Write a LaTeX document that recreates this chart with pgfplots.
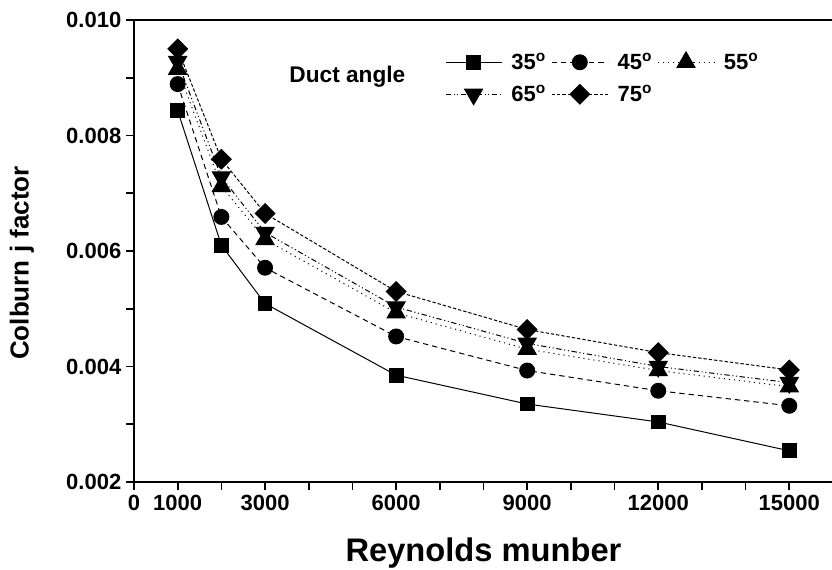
\documentclass[border=0pt]{standalone}
\usepackage{pgfplots}
\pgfplotsset{compat=1.18}
\usepackage{fontspec}
\setmainfont{Liberation Sans}

\begin{document}
\begin{tikzpicture}
\useasboundingbox (0,0) rectangle (624pt,427.5pt);
\begin{axis}[
  at={(100.5pt,66pt)}, anchor=south west,
  scale only axis, width=524.25pt, height=346.5pt,
  xmin=0, xmax=16000, ymin=0.002, ymax=0.010,
  axis x line*=box, axis y line*=left,
  axis line style={-, line width=1.3pt},
  tick align=outside,
  xtick pos=bottom, ytick pos=left,
  major tick length=6pt, minor tick length=6pt,
  every tick/.style={black, line width=1.3pt},
  minor tick style={black, line width=1.3pt},
  xtick={0,1000,3000,6000,9000,12000,15000},
  xticklabels={0,1000,3000,6000,9000,12000,15000},
  minor xtick={2000,4000,5000,7000,8000,10000,11000,13000,14000},
  ytick={0.002,0.004,0.006,0.008,0.010},
  yticklabels={0.002,0.004,0.006,0.008,0.010},
  minor ytick={0.003,0.005,0.007,0.009},
  scaled y ticks=false, scaled x ticks=false,
  ticklabel style={font=\fontsize{16.5}{19}\selectfont\bfseries},
  xlabel={Reynolds munber},
  xlabel style={font=\fontsize{24.5}{28}\selectfont\bfseries, at={(axis description cs:0.5,0)}, anchor=base, yshift=-60pt},
  ylabel={Colburn j factor},
  ylabel style={font=\fontsize{19.5}{22}\selectfont\bfseries, at={(axis description cs:-0.1602,0.474)}, anchor=center},
  legend columns=3,
  legend style={at={(axis cs:7115,0.00948)}, anchor=north west, draw=none, fill=none,
    font=\fontsize{16.5}{19}\selectfont\bfseries,
    inner sep=0pt, row sep=6pt,
    /tikz/every odd column/.append style={column sep=5pt},
    /tikz/every even column/.append style={column sep=2pt}},
  legend image code/.code={\draw[mark repeat=2,mark phase=2,#1] plot coordinates {(0pt,0pt) (21pt,0pt) (42pt,0pt)};},
  clip=false,
]
\addplot[black, line width=0.75pt, mark=square*, mark size=5.2pt, mark options={solid}]
  coordinates {(1000,0.00843)(2000,0.00610)(3000,0.00509)(6000,0.00385)(9000,0.00335)(12000,0.00304)(15000,0.00254)};
\addlegendentry{35\textsuperscript{o}}
\addplot[black, line width=0.75pt, dash pattern=on 4pt off 3pt, mark=*, mark size=5.6pt, mark options={solid}]
  coordinates {(1000,0.00889)(2000,0.00659)(3000,0.00571)(6000,0.00452)(9000,0.00393)(12000,0.00358)(15000,0.00332)};
\addlegendentry{45\textsuperscript{o}}
\addplot[black, line width=0.75pt, dash pattern=on 0.8pt off 3pt, mark=triangle*, mark size=7.8pt, mark options={solid}]
  coordinates {(1000,0.00915)(2000,0.00712)(3000,0.00620)(6000,0.00493)(9000,0.00430)(12000,0.00393)(15000,0.00365)};
\addlegendentry{55\textsuperscript{o}}
\addplot[black, line width=0.75pt, dash pattern=on 4pt off 2pt on 0.8pt off 2pt on 0.8pt off 2pt, mark=triangle*, mark size=7.8pt, mark options={solid, rotate=180}]
  coordinates {(1000,0.00928)(2000,0.00728)(3000,0.00632)(6000,0.00503)(9000,0.00440)(12000,0.00400)(15000,0.00372)};
\addlegendentry{65\textsuperscript{o}}
\addplot[black, line width=0.75pt, dash pattern=on 2.5pt off 1.5pt, mark=square*, mark size=5.2pt, mark options={solid, rotate=45}]
  coordinates {(1000,0.00950)(2000,0.00759)(3000,0.00665)(6000,0.00530)(9000,0.00464)(12000,0.00424)(15000,0.00394)};
\addlegendentry{75\textsuperscript{o}}
\node[anchor=west, font=\fontsize{17}{20}\selectfont\bfseries] at (axis cs:3450,0.00901) {Duct angle};
\end{axis}
\end{tikzpicture}
\end{document}
